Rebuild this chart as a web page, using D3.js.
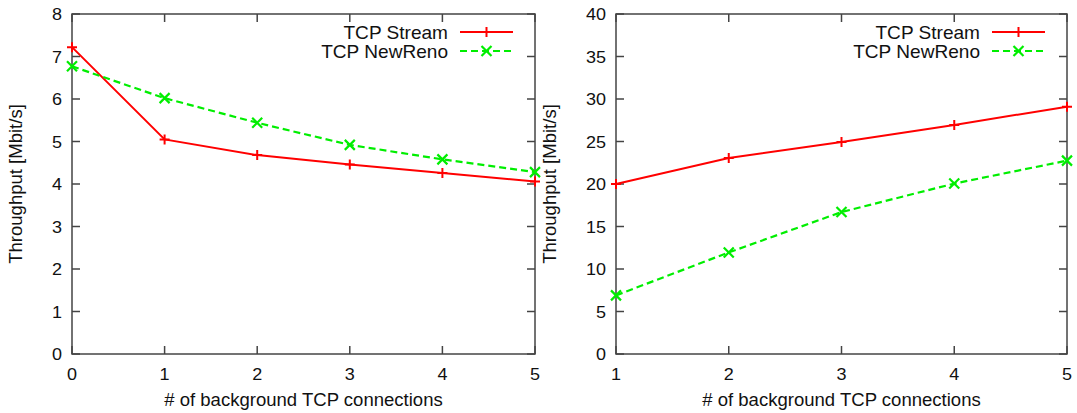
<!DOCTYPE html>
<html><head><meta charset="utf-8">
<script src="https://cdn.jsdelivr.net/npm/d3@7"></script>
<style>body{margin:0;background:#fff}svg{display:block}text{font-family:"Liberation Sans",Arial,sans-serif;fill:#111}</style>
</head><body><svg id="c" width="1077" height="413"></svg>
<script>
// Left panel data
const leftX = [0, 1, 2, 3, 4, 5];
const leftStream = [7.22, 5.05, 4.68, 4.46, 4.26, 4.06];
const leftNewReno = [6.77, 6.02, 5.44, 4.92, 4.58, 4.28];
const leftYTicks = [0, 1, 2, 3, 4, 5, 6, 7, 8];
// Right panel data
const rightX = [1, 2, 3, 4, 5];
const rightStream = [20.0, 23.05, 24.95, 26.95, 29.1];
const rightNewReno = [6.9, 11.95, 16.7, 20.05, 22.75];
const rightYTicks = [0, 5, 10, 15, 20, 25, 30, 35, 40];
const seriesNames = ["TCP Stream", "TCP NewReno"];
const xLabel = "# of background TCP connections";
const yLabel = "Throughput [Mbit/s]";

const svg = d3.select("#c");
const axisColor = "#444";
const SX = 1.06; // slight horizontal stretch of the reference's text

function txt(g, x, y, s, size, anchor, rot) {
  const t = g.append("text").attr("text-anchor", anchor).attr("font-size", size).text(s);
  if (rot) t.attr("transform", `translate(${x},${y}) rotate(-90) scale(${SX},1)`);
  else t.attr("transform", `translate(${x},${y}) scale(${SX},1)`);
  return t;
}

function panel(x0, x1, xs, s1, s2, yTicks, labelX) {
  const top = 14, bottom = 354;
  const x = d3.scaleLinear().domain([xs[0], xs[xs.length-1]]).range([x0, x1]);
  const y = d3.scaleLinear().domain([yTicks[0], yTicks[yTicks.length-1]]).range([bottom, top]);
  const g = svg.append("g");
  const tl = 8;
  const ax = g.append("g").attr("stroke", axisColor).attr("stroke-width", 1.5);
  yTicks.forEach(t => {
    ax.append("line").attr("x1", x0).attr("x2", x0 + tl).attr("y1", y(t)).attr("y2", y(t));
    ax.append("line").attr("x1", x1).attr("x2", x1 - tl).attr("y1", y(t)).attr("y2", y(t));
  });
  xs.forEach(t => {
    ax.append("line").attr("x1", x(t)).attr("x2", x(t)).attr("y1", bottom).attr("y2", bottom - tl);
    ax.append("line").attr("x1", x(t)).attr("x2", x(t)).attr("y1", top).attr("y2", top + tl);
  });
  g.append("rect").attr("x", x0).attr("y", top).attr("width", x1 - x0).attr("height", bottom - top)
    .attr("fill", "none").attr("stroke", axisColor).attr("stroke-width", 1.5);
  yTicks.forEach(d => txt(g, x0 - 10, y(d) + 6, d, 17, "end"));
  xs.forEach(d => txt(g, x(d), 380, d, 17, "middle"));
  txt(g, (x0 + x1) / 2, 406, xLabel, 17.5, "middle");
  txt(g, labelX, 184, yLabel, 17.5, "middle", true);

  const line = d3.line().x(d => x(d[0])).y(d => y(d[1]));
  const d1 = xs.map((v, i) => [v, s1[i]]);
  const d2 = xs.map((v, i) => [v, s2[i]]);
  const clip = "clip" + x0;
  g.append("clipPath").attr("id", clip).append("rect").attr("x", x0 - 8).attr("y", top - 8).attr("width", x1 - x0 + 16).attr("height", bottom - top + 16);
  const pg = g.append("g").attr("clip-path", `url(#${clip})`);
  pg.append("path").datum(d1).attr("d", line).attr("fill", "none").attr("stroke", "#ff0000").attr("stroke-width", 2);
  pg.append("path").datum(d2).attr("d", line).attr("fill", "none").attr("stroke", "#00ee00").attr("stroke-width", 2.2).attr("stroke-dasharray", "7,4");
  const m = 5;
  d1.forEach(d => {
    const cx = x(d[0]), cy = y(d[1]);
    pg.append("path").attr("d", `M${cx-m},${cy}H${cx+m}M${cx},${cy-m}V${cy+m}`).attr("stroke", "#ff0000").attr("stroke-width", 2);
  });
  d2.forEach(d => {
    const cx = x(d[0]), cy = y(d[1]);
    pg.append("path").attr("d", `M${cx-m},${cy-m}L${cx+m},${cy+m}M${cx-m},${cy+m}L${cx+m},${cy-m}`).attr("stroke", "#00ee00").attr("stroke-width", 2.2);
  });
  const ly = [32, 51];
  const colors = ["#ff0000", "#00ee00"];
  seriesNames.forEach((n, i) => {
    txt(g, x1 - 87, ly[i] + 6.5, n, 18, "end");
    const la = x1 - 75, lb = x1 - 22, lc = (la + lb) / 2;
    g.append("line").attr("x1", la).attr("x2", lb).attr("y1", ly[i]).attr("y2", ly[i])
      .attr("stroke", colors[i]).attr("stroke-width", i ? 2.2 : 2).attr("stroke-dasharray", i ? "7,4" : null);
    if (i === 0) g.append("path").attr("d", `M${lc-m},${ly[i]}H${lc+m}M${lc},${ly[i]-m}V${ly[i]+m}`).attr("stroke", colors[i]).attr("stroke-width", 2);
    else g.append("path").attr("d", `M${lc-m},${ly[i]-m}L${lc+m},${ly[i]+m}M${lc-m},${ly[i]+m}L${lc+m},${ly[i]-m}`).attr("stroke", colors[i]).attr("stroke-width", 2.2);
  });
}

panel(72, 535, leftX, leftStream, leftNewReno, leftYTicks, 22);
panel(616, 1067, rightX, rightStream, rightNewReno, rightYTicks, 556);
</script></body></html>
